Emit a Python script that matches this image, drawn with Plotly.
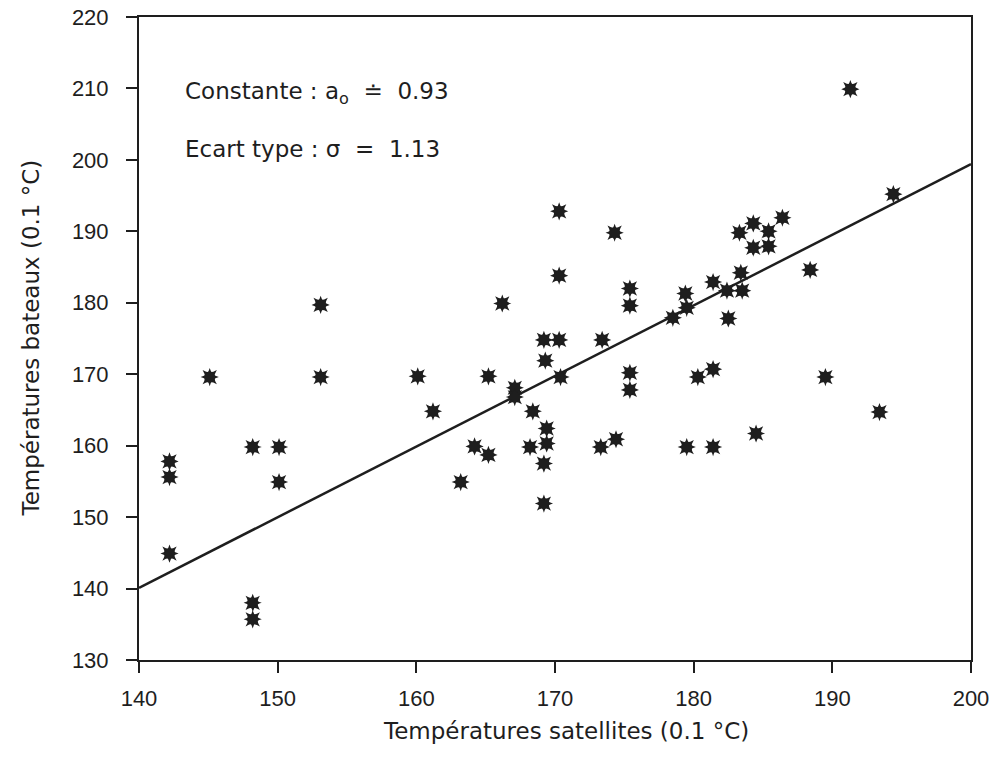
import plotly.graph_objects as go

sat_temp = [142.2, 142.2, 142.2, 145.1, 148.2, 148.2, 148.2, 150.1, 150.1, 153.1, 153.1,
            160.1, 161.2, 163.2, 164.2, 165.2, 165.2, 166.2, 167.1, 167.1, 168.4, 168.2,
            169.2, 169.3, 169.4, 169.4, 169.2, 169.2, 170.3, 170.3, 170.3, 170.4,
            173.4, 173.3, 174.3, 174.4, 175.4, 175.4, 175.4, 175.4, 178.5,
            179.4, 179.5, 179.5, 180.3, 181.4, 181.4, 181.4, 182.4, 182.5,
            183.3, 183.4, 183.5, 184.3, 184.3, 184.5, 185.4, 185.4, 186.4,
            188.4, 189.5, 191.3, 193.4, 194.4]
boat_temp = [157.8, 155.6, 144.9, 169.6, 159.8, 138.0, 135.7, 159.8, 154.9, 179.7, 169.6,
             169.7, 164.8, 154.9, 159.9, 169.7, 158.7, 179.9, 168.1, 166.8, 164.8, 159.8,
             174.8, 171.9, 162.4, 160.3, 157.5, 151.9, 192.8, 183.8, 174.8, 169.6,
             174.8, 159.8, 189.8, 160.9, 182.0, 179.6, 170.2, 167.8, 177.9,
             181.3, 179.3, 159.8, 169.6, 182.9, 170.7, 159.8, 181.7, 177.8,
             189.8, 184.2, 181.7, 191.1, 187.7, 161.7, 190.0, 187.9, 191.9,
             184.6, 169.6, 209.9, 164.7, 195.2]

fit_x = [140, 200]
fit_y = [140.1, 199.4]

x_ticks = [140, 150, 160, 170, 180, 190, 200]
y_ticks = [130, 140, 150, 160, 170, 180, 190, 200, 210, 220]

ink = "#1e1e1e"
tick_family = "Liberation Sans, Arial, sans-serif"
text_family = "DejaVu Sans, Liberation Sans, sans-serif"
nb = "\u00a0"

fig = go.Figure()
fig.add_trace(go.Scatter(x=fit_x, y=fit_y, mode="lines",
                         line=dict(color=ink, width=2.5), hoverinfo="skip"))
for sym in ["star-square", "star-diamond"]:
    fig.add_trace(go.Scatter(x=sat_temp, y=boat_temp, mode="markers",
                             marker=dict(symbol=sym, size=13, color=ink,
                                         line=dict(width=0))))

axis_common = dict(showline=True, linecolor=ink, linewidth=2, mirror=True,
                   ticks="outside", ticklen=11, tickwidth=2, tickcolor=ink,
                   showgrid=False, zeroline=False, automargin=False,
                   ticklabeloverflow="allow",
                   tickfont=dict(family=tick_family, size=22, color=ink))

fig.update_layout(
    width=992, height=773,
    margin=dict(l=139, r=21, t=17, b=113),
    paper_bgcolor="white", plot_bgcolor="white",
    showlegend=False,
    xaxis=dict(range=[140, 200], tickvals=x_ticks, ticklabelstandoff=7, **axis_common),
    yaxis=dict(range=[130, 220], tickvals=y_ticks, ticklabelstandoff=13, **axis_common),
    annotations=[
        dict(text=f"Constante : a<sub>o</sub>{nb}{nb}≐{nb}{nb}0.93", x=143.2, y=209.35,
             xref="x", yref="y", xanchor="left", yanchor="middle", showarrow=False,
             font=dict(family=text_family, size=23, color=ink)),
        dict(text=f"Ecart type : σ{nb}{nb}={nb}{nb}1.13", x=143.2, y=201.5,
             xref="x", yref="y", xanchor="left", yanchor="middle", showarrow=False,
             font=dict(family=text_family, size=23, color=ink)),
        dict(text="Températures satellites (0.1 °C)", x=0.513, y=-0.110,
             xref="paper", yref="paper", xanchor="center", yanchor="middle",
             showarrow=False, font=dict(family=text_family, size=23, color=ink)),
        dict(text="Températures bateaux (0.1 °C)", x=-0.131, y=0.5, textangle=-90,
             xref="paper", yref="paper", xanchor="center", yanchor="middle",
             showarrow=False, font=dict(family=text_family, size=23, color=ink)),
    ],
)

fig.write_html("out.html",
               config={"displayModeBar": False},
               post_script="document.body.style.margin='0';document.body.style.overflow='hidden';")
